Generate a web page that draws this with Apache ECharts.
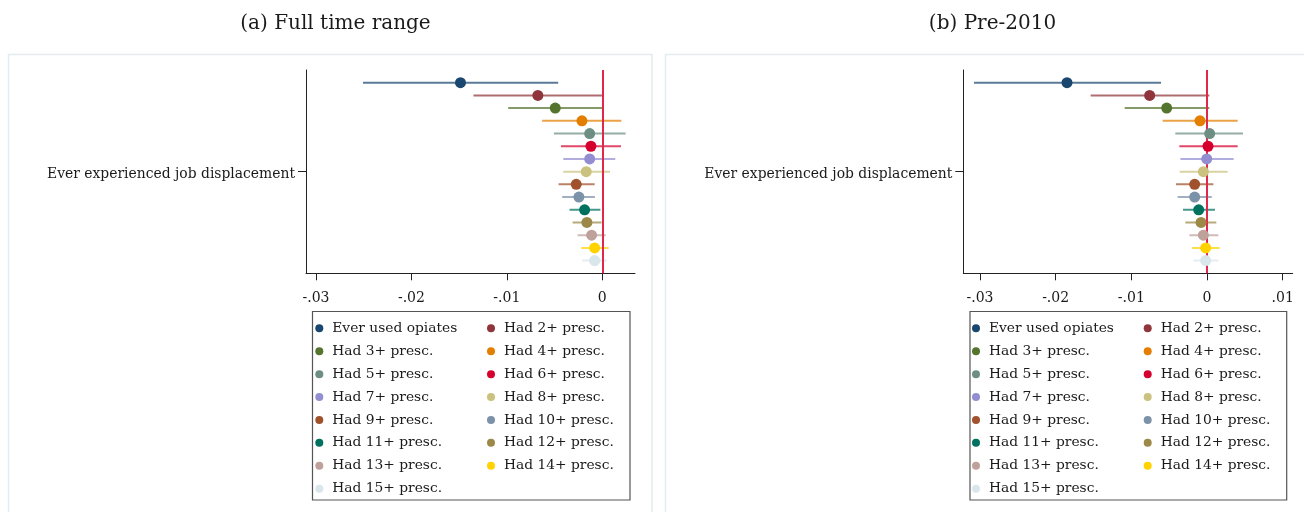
<!DOCTYPE html>
<html>
<head>
<meta charset="utf-8">
<script src="https://cdn.jsdelivr.net/npm/echarts@6/dist/echarts.min.js"></script>
<style>html,body{margin:0;padding:0;background:#fff;}#c{width:1304px;height:512px;}</style>
</head>
<body>
<div id="c"></div>
<script>
const items = ['Ever used opiates','Had 2+ presc.','Had 3+ presc.','Had 4+ presc.','Had 5+ presc.','Had 6+ presc.','Had 7+ presc.','Had 8+ presc.','Had 9+ presc.','Had 10+ presc.','Had 11+ presc.','Had 12+ presc.','Had 13+ presc.','Had 14+ presc.','Had 15+ presc.'];
const yLabel = 'Ever experienced job displacement';
const panelTitles = ['(a) Full time range', '(b) Pre-2010'];

const leftEst = [-0.01486,-0.00675,-0.00493,-0.00213,-0.00132,-0.00119,-0.00132,-0.00168,-0.00273,-0.00245,-0.00185,-0.00161,-0.00112,-0.0008,-0.0008];
const leftLo  = [-0.02508,-0.0135,-0.00986,-0.0063,-0.00507,-0.00433,-0.00409,-0.00409,-0.00458,-0.0042,-0.00343,-0.00311,-0.00259,-0.0022,-0.0021];
const leftHi  = [-0.00462,0.0,0.0,0.002,0.00245,0.00196,0.00136,0.00081,-0.0008,-0.00077,-0.0002,-0.00007,0.00035,0.00067,0.00046];

const rightEst = [-0.0185,-0.00758,-0.00533,-0.00093,0.00035,0.00013,-0.00004,-0.00048,-0.00163,-0.00163,-0.0011,-0.00079,-0.00048,-0.00018,-0.00018];
const rightLo  = [-0.03079,-0.01537,-0.01088,-0.00586,-0.00419,-0.00366,-0.00352,-0.00361,-0.0041,-0.00388,-0.00317,-0.00286,-0.00233,-0.00198,-0.00181];
const rightHi  = [-0.00608,0.00031,0.00031,0.00405,0.00476,0.00405,0.00352,0.00273,0.00084,0.00062,0.00106,0.00123,0.0015,0.00167,0.0015];

const leftTicks = [-0.03,-0.02,-0.01,0];
const rightTicks = [-0.03,-0.02,-0.01,0,0.01];

const colors = ['#1a476f','#90353b','#55752f','#e37e00','#6e8e84','#d6002f','#938dd2','#cac27e','#a0522d','#7b92a8','#00705f','#9c8847','#bfa19c','#ffd200','#d9e6eb'];

const FONT = 'DejaVu Serif';
const TXT = '#1a1a1a';

function fmtTick(v){
  if (Math.abs(v) < 1e-12) return '0';
  const s = Math.abs(v).toFixed(2).replace(/^0/, '');
  return (v < 0 ? '-' : '') + s;
}

const chart = echarts.init(document.getElementById('c'), null, {renderer:'canvas'});

const grids = [
  {left:306, top:70, width:329, height:203.3},
  {left:963.3, top:70, width:329.4, height:203.3}
];
const xRanges = [[-0.03105, 0.00343],[-0.0322, 0.01132]];
const tickSets = [leftTicks, rightTicks];
const panels = [[leftEst, leftLo, leftHi],[rightEst, rightLo, rightHi]];

const xAxes = [], yAxes = [], series = [];
for (let p = 0; p < 2; p++) {
  xAxes.push({
    type:'value', gridIndex:p, min:xRanges[p][0], max:xRanges[p][1],
    splitLine:{show:false},
    axisLine:{show:true, onZero:false, lineStyle:{color:'#222', width:1}},
    axisTick:{show:true, length:7, customValues:tickSets[p], lineStyle:{color:'#222'}},
    axisLabel:{customValues:tickSets[p], formatter:fmtTick, fontFamily:FONT, fontSize:14, color:TXT, margin:18}
  });
  yAxes.push({
    type:'value', gridIndex:p, min:0, max:16, inverse:true,
    splitLine:{show:false},
    axisLine:{show:true, onZero:false, lineStyle:{color:'#222', width:1}},
    axisTick:{show:true, length:8, customValues:[8], lineStyle:{color:'#222'}},
    axisLabel:{customValues:[8.25], formatter:function(){return yLabel;}, fontFamily:FONT, fontSize:13.9, color:TXT, margin:11}
  });
  const [est, lo, hi] = panels[p];
  items.forEach((name, i) => {
    series.push({
      type:'scatter', name:name, xAxisIndex:p, yAxisIndex:p, z:5,
      symbol:'circle', symbolSize:11,
      itemStyle:{color:colors[i], opacity:1},
      data:[[est[i], i+1]], silent:true
    });
  });
  items.forEach((name, i) => {
    series.push({
      type:'line', name:name, xAxisIndex:p, yAxisIndex:p, z:2,
      symbol:'none', showSymbol:false,
      lineStyle:{color:colors[i], width:2, opacity:0.72},
      data:[[lo[i], i+1],[hi[i], i+1]], silent:true
    });
  });
  series.push({
    type:'line', name:'zero'+p, xAxisIndex:p, yAxisIndex:p, z:3, data:[], silent:true,
    markLine:{silent:true, symbol:['none','none'], label:{show:false}, animation:false,
      lineStyle:{color:'#e0294a', width:2, type:'solid'},
      data:[{xAxis:0}]}
  });
}

const col1 = items.filter((_, i) => i % 2 === 0);
const col2 = items.filter((_, i) => i % 2 === 1);
function mkLegend(data, left){
  return {
    data:data, orient:'vertical', left:left, top:316.9, padding:0,
    itemWidth:16, itemHeight:8, itemGap:0, icon:'circle', selectedMode:false,
    textStyle:{fontFamily:FONT, fontSize:13.8, color:TXT, lineHeight:22.9}
  };
}
const legends = [mkLegend(col1, 315.3), mkLegend(col2, 487), mkLegend(col1, 972), mkLegend(col2, 1143.7)];

chart.setOption({
  animation:false,
  backgroundColor:'#fff',
  color:colors,
  title:[
    {text:panelTitles[0], left:330.5, top:9, textAlign:'center', textStyle:{fontFamily:FONT, fontSize:20, fontWeight:'normal', color:TXT}},
    {text:panelTitles[1], left:987.5, top:9, textAlign:'center', textStyle:{fontFamily:FONT, fontSize:20, fontWeight:'normal', color:TXT}}
  ],
  graphic:[
    {type:'rect', z:-10, shape:{x:8.5, y:54.5, width:643.5, height:500}, style:{fill:'#fff', stroke:'#e3ebee', lineWidth:1.5}},
    {type:'rect', z:-10, shape:{x:665.5, y:54.5, width:700, height:500}, style:{fill:'#fff', stroke:'#e3ebee', lineWidth:1.5}},
    {type:'rect', z:-5, shape:{x:312.5, y:311.5, width:317.5, height:188.5}, style:{fill:'#fff', stroke:'#555', lineWidth:1.2}},
    {type:'rect', z:-5, shape:{x:970, y:311.5, width:316.7, height:188.5}, style:{fill:'#fff', stroke:'#555', lineWidth:1.2}}
  ],
  legend:legends,
  grid:grids,
  xAxis:xAxes,
  yAxis:yAxes,
  series:series
});
</script>
</body>
</html>
